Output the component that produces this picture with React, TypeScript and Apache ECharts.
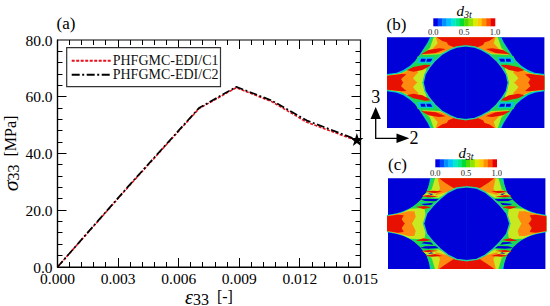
import React, { useEffect, useRef } from "react";
import * as echarts from "echarts";

const strain = [0, 0.0035, 0.007, 0.00885, 0.0106, 0.01235, 0.01482];
const stressC1 = [0, 28.2, 55.8, 63.2, 58.3, 51.0, 44.5];
const stressC2 = [0, 28.4, 56.0, 63.5, 58.7, 51.6, 44.9];
const failurePoint = [[0.01482, 44.9]];
const seriesNames = ["PHFGMC-EDI/C1", "PHFGMC-EDI/C2"];
const colorbarColors = ["#0000e8", "#0048ff", "#0090ff", "#00c0ff", "#00e8d0", "#00e890", "#00dc30", "#50dc00", "#90e400", "#d8ec00", "#ffc800", "#ff9000", "#ff5000", "#e80000"];
const colorbarLabels = ["0.0", "0.5", "1.0"];
const X_MAX = 0.015;
const Y_MAX = 80;
const X_STEP = 0.003;
const Y_STEP = 20;
const MINOR_PER_MAJOR = 5;
const X_MAJOR_COUNT = 5;
const Y_MAJOR_COUNT = 4;

const BLUE = "#0000d8", CYAN = "#00c8d8", GREEN = "#20d850", YELLOW = "#c8e820", ORANGE = "#ff8a10", RED = "#e81000";
type Pts = number[][];
type Layer = [string, Pts];

const layersB: Layer[] = [
  [CYAN, [[6,117],[35,113],[55,105],[75,92],[90,78],[103,60],[115,42],[128,22],[135,7],[242,7],[242,143],[6,143]]],
  [GREEN, [[6,120],[40,116],[62,106],[80,92],[95,75],[108,56],[122,36],[140,7],[242,7],[242,143],[6,143]]],
  [YELLOW, [[6,122],[50,114],[70,104],[90,100],[125,100],[118,122],[112,143],[6,143]]],
  [YELLOW, [[146,7],[242,7],[242,34],[200,42],[165,58],[112,60],[135,38]]],
  [ORANGE, [[6,122],[42,118],[70,107],[95,106],[100,112],[90,122],[84,130],[98,143],[6,143]]],
  [ORANGE, [[152,7],[242,7],[242,34],[200,42],[165,55],[112,59],[142,42],[158,25]]],
  [RED, [[155,7],[242,7],[242,32],[205,36],[190,30],[185,22],[172,18]]],
  [RED, [[108,58],[130,45],[162,40],[182,42],[152,54]]],
  [RED, [[65,106],[85,96],[120,89],[140,90],[112,105],[85,110]]],
  [RED, [[6,122],[50,117],[64,118],[48,132],[55,143],[6,143]]],
  [GREEN, [[98,64],[152,62],[145,88],[90,88]]],
  [CYAN, [[101,67],[148,66],[141,85],[95,85]]],
  [BLUE, [[108,71],[122,71],[120,80],[106,80]]],
  [BLUE, [[126,71],[142,71],[137,80],[124,80]]],
];
const holeB: Pts = [[242,32],[215,36],[195,44],[170,58],[150,76],[133,97],[120,118],[114,143]];

const layersC: Layer[] = [
  [CYAN, [[6,117],[35,112],[55,106],[75,97],[95,84],[112,68],[125,48],[132,25],[135,7],[245,7],[245,143],[6,143]]],
  [GREEN, [[6,119],[40,114],[62,105],[84,92],[104,74],[124,48],[140,7],[245,7],[245,143],[6,143]]],
  [YELLOW, [[6,121],[50,110],[76,98],[118,96],[122,118],[113,143],[6,143]]],
  [YELLOW, [[150,7],[245,7],[245,34],[190,52],[160,66],[112,60],[140,40]]],
  [ORANGE, [[6,121],[50,111],[70,106],[88,106],[92,122],[80,143],[6,143]]],
  [ORANGE, [[158,7],[245,7],[245,34],[195,46],[150,58],[165,38]]],
  [RED, [[162,7],[245,7],[245,32],[205,36],[180,20]]],
  [RED, [[6,121],[38,116],[56,118],[50,130],[60,143],[6,143]]],
  [RED, [[120,47],[140,44],[172,46],[150,52]]],
  [RED, [[108,60],[130,57],[160,62],[130,64]]],
  [RED, [[92,92],[118,90],[140,94],[115,99]]],
  [BLUE, [[128,52],[146,54],[138,57]]],
  [BLUE, [[105,70],[130,68],[165,70],[150,76],[120,75]]],
  [CYAN, [[100,78],[132,80],[118,84]]],
  [BLUE, [[108,84],[145,80],[138,87],[118,88]]],
];
const holeC: Pts = [[245,32],[215,36],[190,48],[165,68],[145,88],[125,112],[115,143]];

function quadrants(cx: number, cy: number, zcx: number, zcy: number, layers: Layer[], hole: Pts, ringColor: string) {
  // Points on the symmetry lines are pushed slightly across them so that mirrored quadrants overlap without seams.
  const toLocal = (pts: Pts) => pts.map(([a, b]) => [((a >= zcx ? a + 2 : a) - zcx) / 3, ((b >= zcy ? b + 2 : b) - zcy) / 3]);
  const build = () => {
    const children: any[] = [];
    layers.forEach(([fill, pts]) =>
      children.push({ type: "polygon", shape: { points: toLocal(pts) }, style: { fill } })
    );
    const last = hole[hole.length - 1];
    children.push({ type: "polygon", shape: { points: toLocal([...hole, [last[0], zcy], [zcx, zcy]]) }, style: { fill: BLUE } });
    children.push({ type: "polyline", shape: { points: toLocal(hole) }, style: { stroke: ringColor, lineWidth: 1.4, fill: "none" } });
    return children;
  };
  return [[1, 1], [-1, 1], [1, -1], [-1, -1]].map(([scaleX, scaleY]) => ({
    type: "group", x: cx, y: cy, scaleX, scaleY, children: build(),
  }));
}

const FONT = "Liberation Serif";

function colorbar(x0: number, x1: number, y0: number, y1: number, labelY: number, titleY: number) {
  const w = (x1 - x0) / colorbarColors.length;
  const items: any[] = colorbarColors.map((fill, i) => ({
    type: "rect", shape: { x: x0 + i * w, y: y0, width: w + 0.3, height: y1 - y0 }, style: { fill },
  }));
  colorbarLabels.forEach((text, i) =>
    items.push({
      type: "text", x: x0 + (i * (x1 - x0)) / 2, y: labelY,
      style: { text, fill: "#222", fontFamily: FONT, fontSize: 8.5, align: "center", verticalAlign: "middle" },
    })
  );
  items.push({
    type: "text", x: (x0 + x1) / 2, y: titleY,
    style: {
      text: "{d|d}{s|3t}", align: "center", verticalAlign: "middle", fill: "#000",
      rich: {
        d: { fontFamily: FONT, fontStyle: "italic", fontSize: 15, fill: "#000" },
        s: { fontFamily: FONT, fontStyle: "italic", fontSize: 10, fill: "#000", padding: [6, 0, 0, 0] },
      },
    },
  });
  return items;
}

const serifText = (text: string, x: number, y: number, size: number) => ({
  type: "text", x, y,
  style: { text, fill: "#000", fontFamily: FONT, fontSize: size, align: "center", verticalAlign: "middle" },
});

const STAR = "path://M0,-10 L2.35,-3.09 L9.51,-3.09 L3.8,1.18 L5.88,8.09 L0,3.82 L-5.88,8.09 L-3.8,1.18 L-9.51,-3.09 L-2.35,-3.09 Z";

// Ticks on all four edges, placed through the chart's own scales.
function frameTicks(chart: any) {
  const px = (x: number, y: number) => chart.convertToPixel({ xAxisIndex: 0, yAxisIndex: 0 }, [x, y]);
  const snap = (v: number) => Math.round(v - 0.5) + 0.5;
  const tick = (a: number[], b: number[]) => ({
    type: "polyline",
    shape: { points: [a, b] },
    style: { stroke: "#000", lineWidth: 1, fill: "none" },
  });
  const out: any[] = [];
  for (let i = 1; i < X_MAJOR_COUNT * MINOR_PER_MAJOR; i++) {
    const len = i % MINOR_PER_MAJOR === 0 ? 9 : 5;
    const v = (i * X_STEP) / MINOR_PER_MAJOR;
    const bottom = px(v, 0), top = px(v, Y_MAX);
    const x = snap(bottom[0]);
    out.push(tick([x, bottom[1]], [x, bottom[1] - len]));
    out.push(tick([x, top[1]], [x, top[1] + len]));
  }
  for (let i = 1; i < Y_MAJOR_COUNT * MINOR_PER_MAJOR; i++) {
    const len = i % MINOR_PER_MAJOR === 0 ? 9 : 5;
    const v = (i * Y_STEP) / MINOR_PER_MAJOR;
    const left = px(0, v), right = px(X_MAX, v);
    const y = snap(left[1]);
    out.push(tick([left[0], y], [left[0] + len, y]));
    out.push(tick([right[0], y], [right[0] - len, y]));
  }
  return out;
}

export default function App() {
  const ref = useRef<HTMLDivElement>(null);
  useEffect(() => {
    document.body.style.margin = "0";
    const chart = echarts.init(ref.current!, undefined, { renderer: "svg" });
    const axisBase = {
      axisLine: { show: true, onZero: false, lineStyle: { color: "#000", width: 1.2 } },
      axisTick: { show: false },
      minorTick: { show: false },
      splitLine: { show: false },
    };
    chart.setOption({
      animation: false,
      backgroundColor: "#fff",
      textStyle: { fontFamily: FONT },
      grid: {
        left: 57.5, top: 40, right: 189.5, bottom: 39, outerBoundsMode: "none",
        show: true, borderColor: "#000", borderWidth: 1.2, backgroundColor: "transparent",
      },
      legend: {
        data: seriesNames,
        left: 66.7, top: 47.7, orient: "vertical",
        padding: [6, 2, 5, 4], itemGap: 0, itemWidth: 40, itemHeight: 14,
        borderColor: "#333", borderWidth: 1.2, backgroundColor: "#fff",
        itemStyle: { opacity: 0 },
        textStyle: { fontFamily: FONT, fontSize: 14, color: "#111", padding: [0, 0, 0, -4] },
      },
      xAxis: {
        type: "value", min: 0, max: X_MAX, interval: X_STEP, ...axisBase,
        name: "{e|ε}{s|33}{t|  [-]}", nameLocation: "middle", nameGap: 19, nameMoveOverlap: false,
        nameTextStyle: {
          rich: {
            e: { fontFamily: FONT, fontStyle: "italic", fontSize: 20, color: "#000" },
            s: { fontFamily: FONT, fontSize: 16, color: "#000", padding: [5, 0, 0, 0] },
            t: { fontFamily: FONT, fontSize: 16, color: "#000" },
          },
        },
        axisLabel: {
          fontFamily: FONT, fontSize: 15.5, color: "#000", margin: 3,
          formatter: (v: number) => v.toFixed(3),
        },
      },
      yAxis: {
        type: "value", min: 0, max: Y_MAX, interval: Y_STEP, ...axisBase,
        name: "{e|σ}{s|33}{t|  [MPa]}", nameLocation: "middle", nameGap: 36, nameMoveOverlap: false,
        nameTextStyle: {
          rich: {
            e: { fontFamily: FONT, fontStyle: "italic", fontSize: 22, color: "#000" },
            s: { fontFamily: FONT, fontSize: 16, color: "#000", padding: [5, 0, 0, 0] },
            t: { fontFamily: FONT, fontSize: 16, color: "#000" },
          },
        },
        axisLabel: {
          fontFamily: FONT, fontSize: 15.5, color: "#000", margin: 5,
          formatter: (v: number) => v.toFixed(1),
        },
      },
      series: [
        {
          name: seriesNames[0], type: "line", symbol: "none", z: 3,
          data: strain.map((x, i) => [x, stressC1[i]]),
          lineStyle: { color: "#e8101c", width: 1.6, type: [3, 1.5] },
        },
        {
          name: seriesNames[1], type: "line", symbol: "none", z: 4,
          data: strain.map((x, i) => [x, stressC2[i]]),
          lineStyle: { color: "#000", width: 1.7, type: [8, 2.5, 2, 2.5] },
        },
        {
          name: "Failure", type: "line", z: 5, clip: false,
          data: failurePoint, symbol: STAR, symbolSize: 13, showSymbol: true,
          itemStyle: { color: "#000" }, lineStyle: { width: 0 },
        },
      ],
    });
    chart.setOption({
      graphic: [
        ...frameTicks(chart),
        serifText("(a)", 66, 23.5, 17),
        serifText("(b)", 396.5, 24, 17),
        serifText("(c)", 397.5, 164, 17),
        { type: "rect", shape: { x: 387, y: 37.3, width: 157.4, height: 90.7 }, style: { fill: BLUE } },
        ...quadrants(465.7, 82.7, 242, 143, layersB, holeB, "#20d0a0"),
        { type: "rect", shape: { x: 388, y: 178.3, width: 157.4, height: 90.7 }, style: { fill: BLUE } },
        ...quadrants(466.7, 223.7, 245, 143, layersC, holeC, "#20d0a0"),
        ...colorbar(433.3, 495, 18.3, 26.3, 32, 11),
        ...colorbar(435.3, 496.7, 159.3, 167.3, 173, 153),
        { type: "polyline", shape: { points: [[375.7, 116], [375.7, 138.3], [398, 138.3]] }, style: { stroke: "#000", lineWidth: 1.3, fill: "none" } },
        { type: "polygon", shape: { points: [[375.7, 107], [370.5, 119], [380.9, 119]] }, style: { fill: "#000" } },
        { type: "polygon", shape: { points: [[409.3, 138.3], [396.5, 133.5], [396.5, 143.1]] }, style: { fill: "#000" } },
        serifText("3", 375.7, 97, 18),
        serifText("2", 414, 138, 18),
      ],
    });
    return () => chart.dispose();
  }, []);
  return <div ref={ref} style={{ width: 550, height: 306 }} />;
}
